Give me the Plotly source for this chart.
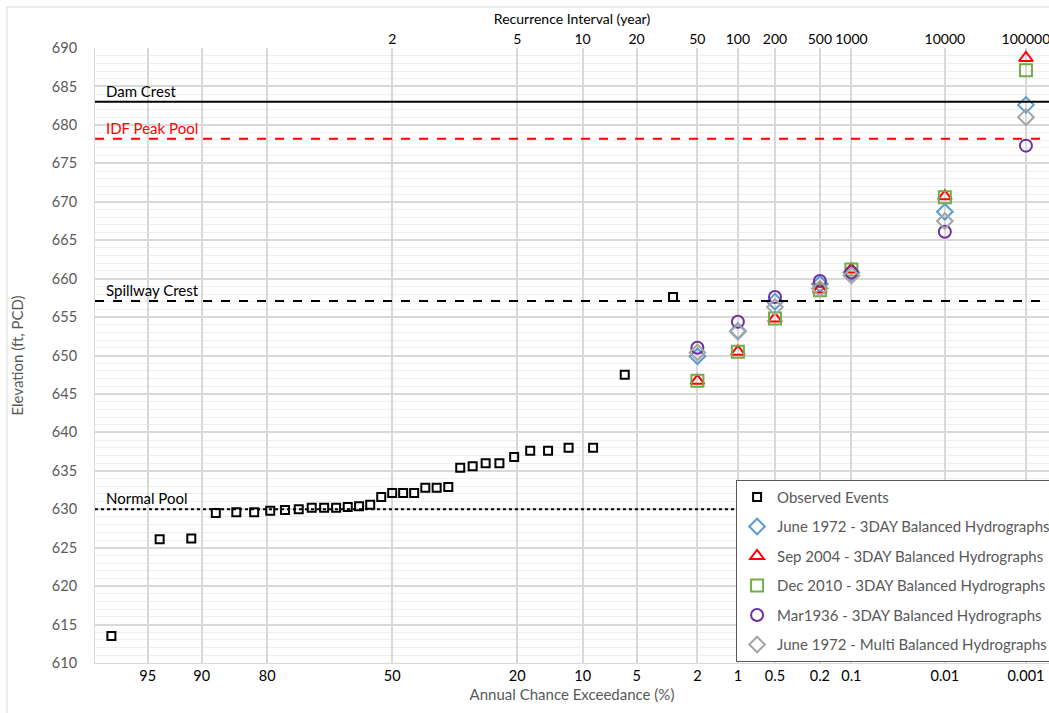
from statistics import NormalDist
import plotly.graph_objects as go

# ---- data -------------------------------------------------------------
# Observed annual peak pool elevations (ft, PCD) with their plotting positions
obs_aep = [97.06, 94.12, 91.18, 88.24, 85.29, 82.35, 79.41, 76.47, 73.53, 70.59,
           67.65, 64.71, 61.76, 58.82, 55.88, 52.94, 50.00, 47.06, 44.12, 41.18,
           38.24, 35.29, 32.35, 29.41, 26.47, 23.53, 20.59, 17.65, 14.71, 11.76,
           8.82, 5.88, 2.94]
obs_elev = [613.5, 626.1, 626.2, 629.5, 629.6, 629.6, 629.8, 629.9, 630.0, 630.2,
            630.2, 630.2, 630.3, 630.4, 630.6, 631.6, 632.1, 632.1, 632.1, 632.8,
            632.8, 632.9, 635.4, 635.6, 636.0, 636.0, 636.8, 637.6, 637.6, 638.0,
            638.0, 647.5, 657.6]

# Modelled peak pools for frequency events (annual chance exceedance, %)
model_aep = [2, 1, 0.5, 0.2, 0.1, 0.01, 0.001]
june1972_3day = [649.9, 653.2, 657.0, 659.3, 660.8, 668.7, 682.6]
sep2004_3day = [646.7, 650.5, 654.8, 658.6, 661.2, 670.7, 688.7]
dec2010_3day = [646.7, 650.5, 654.8, 658.5, 661.2, 670.6, 687.1]
mar1936_3day = [651.0, 654.4, 657.6, 659.7, 660.8, 666.1, 677.3]
june1972_multi = [650.4, 653.1, 656.3, 658.7, 660.4, 667.5, 681.0]

# Reference pool levels
ref_names = ["Dam Crest", "IDF Peak Pool", "Spillway Crest", "Normal Pool"]
ref_levels = [683.0, 678.2, 657.1, 630.0]

# Axis ticks
aep_ticks = [95, 90, 80, 50, 20, 10, 5, 2, 1, 0.5, 0.2, 0.1, 0.01, 0.001]
aep_tick_text = ["95", "90", "80", "50", "20", "10", "5", "2", "1", "0.5", "0.2",
                 "0.1", "0.01", "0.001"]
ri_ticks = [2, 5, 10, 20, 50, 100, 200, 500, 1000, 10000, 100000]

# ---- probability scale ------------------------------------------------
nd = NormalDist()


def to_z(aep_pct):
    """Annual chance exceedance (%) -> standard normal variate."""
    return nd.inv_cdf(1.0 - aep_pct / 100.0)


x_range = [-2.0, 4.42]
FONT = "Lato, 'Open Sans', sans-serif"
GREY_TXT = "#595959"
GRID = "#D9D9D9"

fig = go.Figure()

fig.add_trace(go.Scatter(
    x=[to_z(p) for p in obs_aep], y=obs_elev, mode="markers",
    name="Observed Events", legendgroup="g1",
    marker=dict(symbol="square-open", size=8, color="black",
                line=dict(width=2, color="black")),
    xaxis="x", yaxis="y"))

series = [
    ("June 1972 - 3DAY Balanced Hydrographs", june1972_3day, "diamond-open", "#5B9BD5", 12),
    ("Sep 2004 - 3DAY Balanced Hydrographs", sep2004_3day, "triangle-up-open", "#FF0000", 12),
    ("Dec 2010 - 3DAY Balanced Hydrographs", dec2010_3day, "square-open", "#70AD47", 12),
    ("Mar1936 - 3DAY Balanced Hydrographs", mar1936_3day, "circle-open", "#7030A0", 12),
    ("June 1972 - Multi Balanced Hydrographs", june1972_multi, "diamond-open", "#A5A5A5", 12),
]
for i, (name, vals, sym, col, size) in enumerate(series):
    fig.add_trace(go.Scatter(
        x=[to_z(p) for p in model_aep], y=vals, mode="markers", name=name,
        legendgroup=f"m{i}",
        marker=dict(symbol=sym, size=size, color=col, line=dict(width=2, color=col)),
        xaxis="x2", yaxis="y"))

# Reference lines and their labels
ref_styles = [("black", "solid"), ("#FF0000", "dash"), ("black", "dash"), ("black", "dot")]
ref_text_col = ["black", "#FF0000", "black", "black"]
for name, lvl, (col, dash), tcol in zip(ref_names, ref_levels, ref_styles, ref_text_col):
    fig.add_shape(type="line", xref="paper", yref="y", x0=0, x1=1, y0=lvl, y1=lvl,
                  line=dict(color=col, width=2, dash=dash), layer="above")
    fig.add_annotation(xref="paper", yref="y", x=0.009, y=lvl, text=name,
                       showarrow=False, xanchor="left", yanchor="bottom", yshift=0,
                       font=dict(family=FONT, size=15, color=tcol))

# Chart-area border
fig.add_shape(type="rect", xref="paper", yref="paper", x0=-0.0923, x1=1.2,
              y0=-0.3, y1=1.0667, line=dict(color=GRID, width=1), layer="below")

fig.update_layout(
    width=1049, height=713,
    margin=dict(l=95, r=0, t=48, b=50, autoexpand=False),
    paper_bgcolor="white", plot_bgcolor="white",
    font=dict(family=FONT, size=14, color=GREY_TXT),
    showlegend=True,
    legend=dict(x=0.672, y=0.298, xanchor="left", yanchor="top",
                bgcolor="white", bordercolor="#595959", borderwidth=1,
                font=dict(family=FONT, size=15, color=GREY_TXT),
                tracegroupgap=7),
    xaxis=dict(
        range=x_range, tickmode="array", automargin=False,
        tickvals=[to_z(p) for p in aep_ticks], ticktext=aep_tick_text,
        showgrid=True, gridcolor=GRID, gridwidth=1.5,
        zeroline=False, showline=True, linecolor=GRID, linewidth=1,
        ticks="", tickangle=0, ticklabeloverflow="allow",
        tickfont=dict(size=14.5, color="black"),
        title=dict(text="Annual Chance Exceedance (%)", standoff=6,
                   font=dict(size=15, color=GREY_TXT)),
    ),
    xaxis2=dict(
        range=x_range, overlaying="x", side="top", anchor="y", automargin=False,
        tickmode="array", tickvals=[to_z(100.0 / t) for t in ri_ticks],
        ticktext=[str(t) for t in ri_ticks],
        showgrid=False, zeroline=False, showline=False, ticks="", tickangle=0,
        ticklabeloverflow="allow",
        tickfont=dict(size=14, color="black"),
        title=dict(text="Recurrence Interval (year)", standoff=2,
                   font=dict(size=14, color="black")),
    ),
    yaxis=dict(
        range=[610, 690], dtick=5, tick0=610, automargin=False,
        showgrid=True, gridcolor=GRID, gridwidth=1.5,
        minor=dict(dtick=1, showgrid=True, gridcolor="#EFEFEF", gridwidth=1),
        zeroline=False, showline=True, linecolor=GRID, linewidth=1,
        ticks="", ticklabelstandoff=14, tickfont=dict(size=14.5, color=GREY_TXT),
        title=dict(text="Elevation (ft, PCD)", standoff=24,
                   font=dict(size=15, color=GREY_TXT)),
    ),
)

fig.write_html("out.html")
